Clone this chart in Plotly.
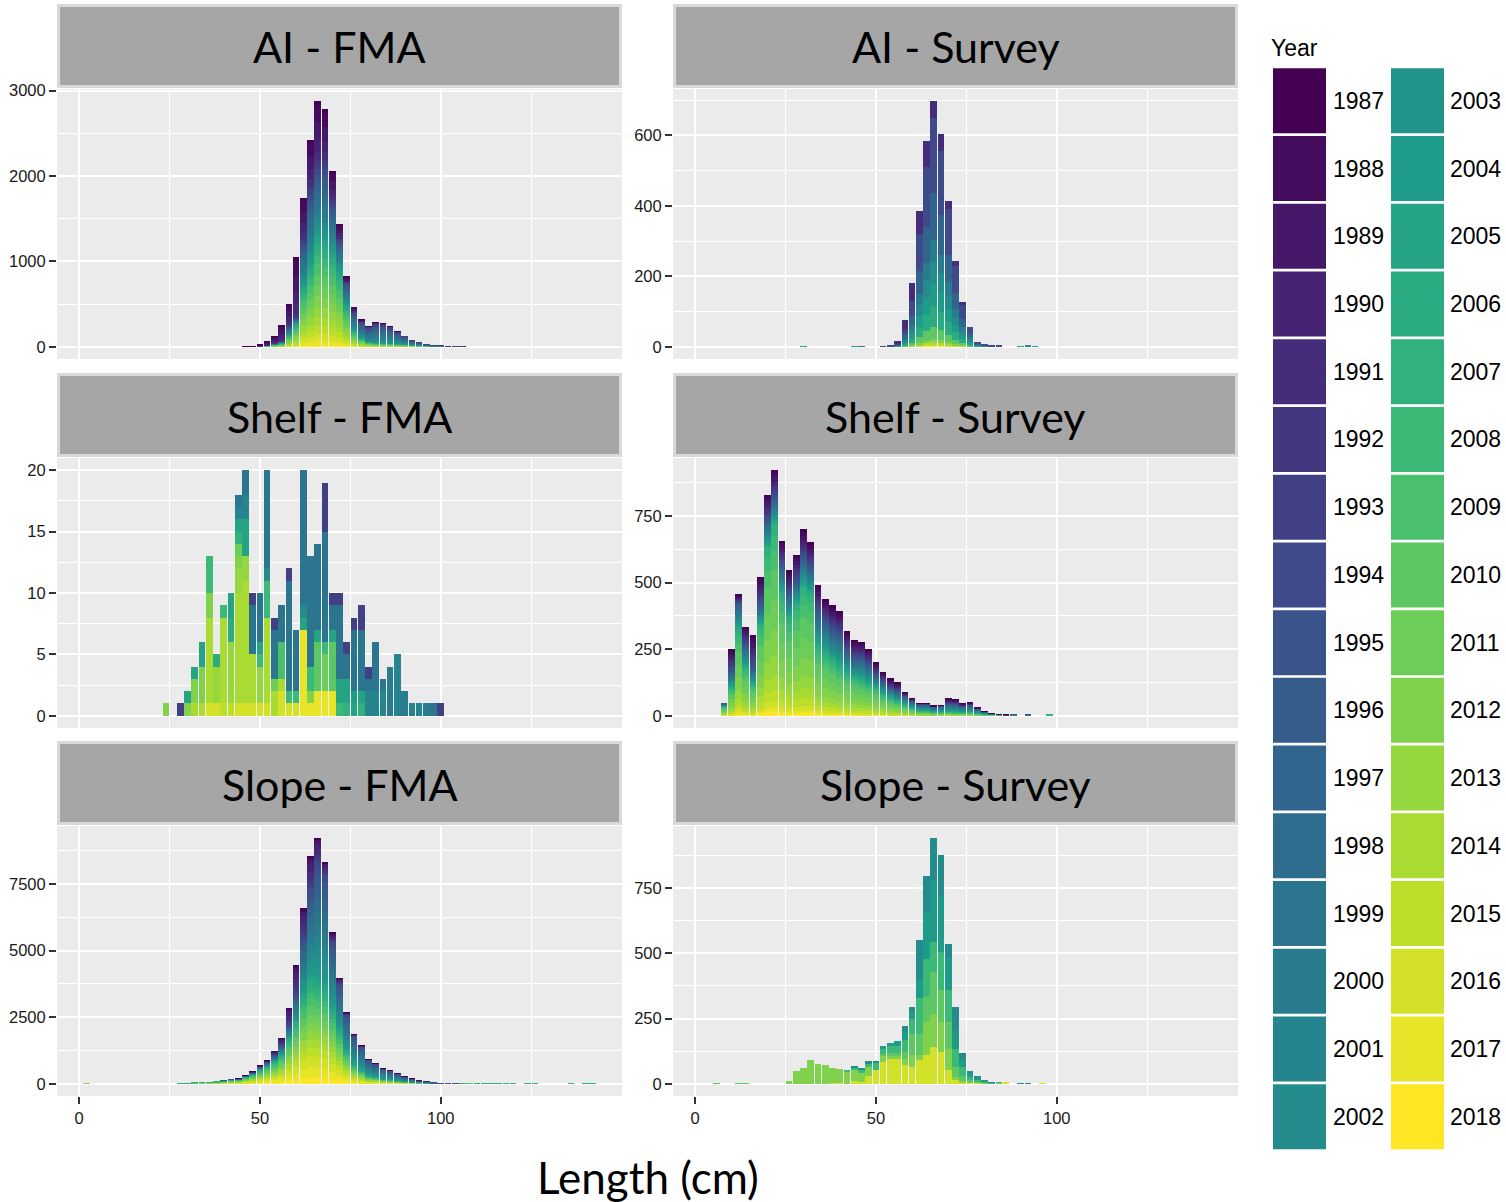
import plotly.graph_objects as go
from plotly.colors import sample_colorscale

W, H = 1506, 1202
YEARS = list(range(1987, 2019))
YEAR_COLORS = sample_colorscale("Viridis", [i / (len(YEARS) - 1) for i in range(len(YEARS))])

# ---------------------------------------------------------------- AI - FMA
ai_fma_bins = list(range(46, 108, 2))
ai_fma_early = [2, 4, 15, 45, 86, 190, 250, 711, 504, 578, 734, 645, 352, 164, 66, 43,
                20, 8, 10, 8, 5, 3, 0, 0, 0, 0, 0, 0, 0, 0, 0]
ai_fma_mid = [3, 4, 5, 5, 10, 20, 90, 60, 508, 840, 781, 820, 547, 332, 254, 207,
              187, 170, 225, 220, 190, 140, 95, 55, 35, 20, 12, 6, 4, 2, 1]
ai_fma_late = [0, 0, 3, 12, 29, 44, 156, 284, 734, 1008, 1359, 1320, 1164, 930, 500, 207,
               109, 62, 50, 45, 43, 37, 30, 23, 16, 11, 8, 6, 4, 2, 2]
ai_fma_early_w = {1987: 1, 1988: 4, 1989: 4, 1990: 3, 1991: 2, 1992: 1}
ai_fma_mid_w = {1993: 2, 1994: 2, 1995: 2, 1996: 2, 1997: 3, 1998: 3, 1999: 3, 2000: 3,
                2001: 2, 2002: 2, 2003: 2}
ai_fma_late_w = {2004: 3, 2005: 3, 2006: 3, 2007: 3, 2008: 4, 2009: 5, 2010: 5, 2011: 5,
                 2012: 5, 2013: 5, 2014: 4, 2015: 4, 2016: 3, 2017: 2, 2018: 1}

# ------------------------------------------------------------- AI - Survey
ai_survey_bins = list(range(52, 86, 2))
ai_survey_1991 = [0, 0, 5, 27, 51, 67, 76, 48, 48, 23, 14, 8, 0, 0, 0, 0, 0]
ai_survey_later = [2, 3, 10, 48, 129, 319, 509, 649, 556, 390, 229, 119, 57, 12, 6, 3, 3]
ai_survey_later_w = {1994: 228, 1997: 140, 2000: 67, 2002: 68, 2004: 65, 2006: 65,
                     2010: 35, 2012: 10, 2014: 6, 2016: 5, 2018: 3}
ai_survey_strays = [(30, 2006, 2), (44, 2006, 2), (46, 2000, 1), (90, 2006, 2),
                    (92, 2002, 3), (94, 2006, 2)]

# ------------------------------------------------------------ Shelf - FMA
shelf_fma = {
    24: {2012: 1},
    28: {1993: 1},
    30: {2005: 1, 2012: 1},
    32: {2005: 1, 2012: 2, 2014: 1},
    34: {2005: 2, 2012: 3, 2014: 1},
    36: {2008: 3, 2012: 2, 2014: 7, 2016: 1},
    38: {2006: 1, 2013: 3, 2016: 1},
    40: {2008: 1, 2014: 7, 2015: 1},
    42: {2005: 2, 2006: 2, 2013: 5, 2015: 1},
    44: {1999: 1, 2001: 1, 2005: 1, 2007: 1, 2011: 1, 2012: 1, 2013: 2, 2014: 9, 2016: 1},
    46: {1999: 2, 2001: 2, 2005: 3, 2013: 2, 2014: 10, 2016: 1},
    48: {1993: 1, 1999: 4, 2014: 4, 2016: 1},
    50: {1999: 4, 2005: 1, 2008: 1, 2013: 3, 2016: 1},
    52: {1999: 8, 2002: 1, 2008: 3, 2014: 7, 2016: 1},
    54: {1993: 1, 1999: 4, 2011: 1, 2014: 2},
    56: {1999: 3, 2009: 3, 2014: 1, 2016: 2},
    58: {1993: 1, 1999: 9, 2008: 1, 2016: 1},
    60: {1999: 5, 2008: 1, 2016: 1},
    62: {1999: 11, 2002: 1, 2005: 1, 2017: 7},
    64: {1999: 9, 2008: 2, 2012: 1, 2017: 1},
    66: {1999: 7, 2005: 1, 2010: 4, 2017: 2},
    68: {1993: 4, 1999: 9, 2008: 1, 2011: 3, 2017: 2},
    70: {1993: 1, 1999: 2, 2005: 1, 2010: 4, 2017: 2},
    72: {1993: 1, 1999: 6, 2005: 2, 2008: 1},
    74: {1993: 1, 1999: 2, 2005: 2, 2007: 1},
    76: {1993: 1, 1999: 5, 2004: 1, 2005: 1},
    78: {1993: 2, 1999: 5, 2005: 1, 2007: 1},
    80: {1993: 1, 1999: 1, 2001: 2},
    82: {1999: 4, 2001: 2},
    84: {1999: 1, 2001: 2},
    86: {2000: 4},
    88: {2001: 5},
    90: {2000: 2},
    92: {2001: 1},
    94: {2001: 1},
    96: {2000: 1},
    98: {1999: 1},
    100: {1993: 1},
}

# --------------------------------------------------------- Shelf - Survey
shelf_survey_bins = list(range(8, 100, 2))
shelf_survey_early = [0, 85, 30, 70, 126, 106, 102, 106, 91, 92, 101, 111, 97, 99, 84, 100,
                      90, 79, 67, 60, 60, 49, 35, 36, 32, 16, 12, 4, 4, 3, 3, 20, 18, 10, 10,
                      5, 2, 1, 1, 2, 0, 0, 0, 0, 0, 0]
shelf_survey_mid = [10, 62, 110, 86, 62, 75, 100, 100, 112, 88, 88, 112, 100, 137, 125, 112,
                    125, 87, 75, 87, 75, 50, 50, 38, 38, 31, 25, 25, 25, 22, 24, 30, 30, 25, 28,
                    18, 8, 4, 2, 1, 5, 0, 3, 0, 0, 0]
shelf_survey_late = [35, 104, 314, 179, 116, 341, 629, 716, 454, 366, 416, 479, 454, 254, 228,
                     204, 179, 154, 142, 129, 116, 103, 79, 66, 54, 42, 29, 18, 18, 12, 12, 15,
                     13, 11, 12, 8, 6, 4, 3, 1, 0, 0, 0, 0, 0, 3]
shelf_survey_early_w = {1987: 2, 1988: 3, 1989: 3, 1990: 2, 1991: 2, 1992: 2, 1993: 2,
                        1994: 2, 1995: 2}
shelf_survey_mid_w = {1996: 2, 1997: 2, 1998: 2, 1999: 2, 2000: 2, 2001: 2, 2002: 2,
                      2003: 2, 2004: 2, 2005: 2, 2006: 2}
shelf_survey_late_w = {2007: 3, 2008: 4, 2009: 5, 2010: 8, 2011: 8, 2012: 7, 2013: 5,
                       2014: 4, 2015: 3, 2016: 2, 2017: 1, 2018: 1}

# ------------------------------------------------------------ Slope - FMA
slope_fma_bins = list(range(28, 106, 2))
slope_fma_early = [0, 0, 0, 0, 0, 0, 0, 0, 5, 10, 25, 40, 50, 137, 250, 625, 1100, 1125,
                   1200, 875, 462, 325, 187, 87, 50, 25, 15, 12, 10, 8, 5, 3, 2, 1, 1, 0, 0,
                   0, 0]
slope_fma_mid = [0, 0, 0, 0, 0, 0, 5, 10, 20, 40, 75, 110, 150, 250, 375, 500, 1000, 2250,
                 3500, 4625, 4375, 2625, 1812, 1375, 1100, 900, 620, 500, 400, 330, 270, 180,
                 130, 75, 60, 25, 15, 12, 6]
slope_fma_late = [20, 25, 37, 50, 62, 75, 107, 140, 162, 262, 350, 525, 662, 838, 1087,
                  1712, 2337, 3212, 3837, 3712, 3462, 2712, 1962, 1212, 712, 500, 290, 250,
                  177, 149, 112, 79, 55, 36, 26, 12, 10, 8, 6]
slope_fma_early_w = {1987: 1, 1988: 2, 1989: 4, 1990: 6, 1991: 6, 1992: 4, 1993: 4}
slope_fma_mid_w = {1994: 2, 1995: 2, 1996: 3, 1997: 3, 1998: 3, 1999: 3, 2000: 3, 2001: 3,
                   2002: 3, 2003: 3, 2004: 2, 2005: 2}
slope_fma_late_w = {2006: 2, 2007: 2, 2008: 2, 2009: 3, 2010: 3, 2011: 3, 2012: 3, 2013: 3,
                    2014: 3, 2015: 3, 2016: 4, 2017: 4, 2018: 2}
# sparse catches at the extremes of the length range: (bin, year, count)
slope_fma_strays = [(2, 2013, 6), (106, 2007, 8), (108, 2010, 10), (110, 2007, 8),
                    (112, 2007, 10), (114, 2007, 8), (116, 2007, 10), (118, 2007, 8),
                    (120, 2007, 8), (124, 2007, 8), (126, 2007, 8), (136, 2007, 8),
                    (140, 2007, 8), (142, 2007, 8)]

# --------------------------------------------------------- Slope - Survey
slope_survey_bins = list(range(26, 88, 2))
slope_survey = {
    2002: [0, 0, 0, 0, 0, 0, 0, 0, 0, 6, 9, 9, 9, 0, 0, 0, 22, 20, 153, 138, 160, 158, 56,
           92, 22, 8, 3, 0, 2, 0, 0],
    2004: [0, 0, 0, 0, 0, 0, 0, 0, 0, 0, 0, 0, 0, 10, 15, 20, 32, 26, 70, 179, 237, 212, 122,
           70, 32, 15, 8, 5, 0, 0, 0],
    2008: [0, 0, 0, 0, 0, 0, 0, 0, 4, 8, 9, 13, 29, 20, 25, 25, 45, 58, 135, 147, 115, 147,
           122, 70, 35, 12, 8, 4, 2, 2, 0],
    2010: [0, 0, 0, 0, 0, 0, 0, 0, 0, 0, 0, 0, 0, 10, 10, 12, 26, 83, 83, 96, 160, 122, 103,
           38, 17, 8, 4, 0, 0, 0, 0],
    2012: [9, 47, 60, 90, 74, 72, 57, 55, 45, 44, 36, 35, 0, 20, 15, 12, 26, 45, 19, 128, 128,
           115, 83, 13, 6, 4, 0, 2, 0, 3, 0],
    2016: [0, 0, 0, 0, 0, 0, 2, 3, 0, 9, 6, 29, 51, 85, 93, 95, 70, 64, 90, 109, 141, 122, 51,
           13, 6, 3, 3, 2, 2, 0, 3],
}
slope_survey_strays = [(6, 2010, 2), (12, 2010, 2), (14, 2010, 2), (90, 2002, 2),
                       (92, 2002, 2), (96, 2016, 2)]

PANEL_TITLES = ["AI - FMA", "AI - Survey", "Shelf - FMA", "Shelf - Survey",
                "Slope - FMA", "Slope - Survey"]
Y_TICKS = [[0, 1000, 2000, 3000], [0, 200, 400, 600], [0, 5, 10, 15, 20],
           [0, 250, 500, 750], [0, 2500, 5000, 7500], [0, 250, 500, 750]]
X_TICKS = [0, 50, 100]
X_MINOR = [25, 75, 125]
X_RANGE = [-6.1, 150.1]


def empty_table():
    return {yr: {} for yr in YEARS}


def add_groups(table, bins, groups):
    """Split each length bin's count among the years of a group in fixed proportions."""
    for counts, weights in groups:
        wsum = float(sum(weights.values()))
        for b, n in zip(bins, counts):
            if not n:
                continue
            for yr, w in weights.items():
                table[yr][b] = table[yr].get(b, 0) + n * w / wsum
    return table


def add_strays(table, strays):
    for b, yr, n in strays:
        table[yr][b] = table[yr].get(b, 0) + n
    return table


def from_bin_dict(d):
    table = empty_table()
    for b, parts in d.items():
        for yr, n in parts.items():
            table[yr][b] = table[yr].get(b, 0) + n
    return table


def from_year_lists(bins, per_year):
    table = empty_table()
    for yr, counts in per_year.items():
        for b, n in zip(bins, counts):
            if n:
                table[yr][b] = table[yr].get(b, 0) + n
    return table


tables = [
    add_groups(empty_table(), ai_fma_bins,
               [(ai_fma_early, ai_fma_early_w), (ai_fma_mid, ai_fma_mid_w),
                (ai_fma_late, ai_fma_late_w)]),
    add_strays(add_groups(empty_table(), ai_survey_bins,
                          [(ai_survey_1991, {1991: 1}),
                           (ai_survey_later, ai_survey_later_w)]), ai_survey_strays),
    from_bin_dict(shelf_fma),
    add_groups(empty_table(), shelf_survey_bins,
               [(shelf_survey_early, shelf_survey_early_w),
                (shelf_survey_mid, shelf_survey_mid_w),
                (shelf_survey_late, shelf_survey_late_w)]),
    add_strays(add_groups(empty_table(), slope_fma_bins,
                          [(slope_fma_early, slope_fma_early_w),
                           (slope_fma_mid, slope_fma_mid_w),
                           (slope_fma_late, slope_fma_late_w)]), slope_fma_strays),
    add_strays(from_year_lists(slope_survey_bins, slope_survey), slope_survey_strays),
]


def px_x(x):
    return x / W


def px_y(y):
    return 1 - y / H


COLS_PX = [(57, 622), (673, 1238)]
ROWS_PX = [(89, 359), (458, 728), (826, 1096)]
STRIPS_PX = [(4, 88), (373, 457), (741, 825)]

TICK_FONT = dict(family="Liberation Sans, Arial, sans-serif", size=16.5, color="#1a1a1a")
TITLE_FONT = "Lato, 'Open Sans', sans-serif"

fig = go.Figure()
layout = dict(
    width=W, height=H, margin=dict(l=0, r=0, t=0, b=0, pad=0, autoexpand=False),
    paper_bgcolor="white", plot_bgcolor="#EBEBEB",
    barmode="stack", bargap=0.08, showlegend=False,
    shapes=[], annotations=[],
)

for i, table in enumerate(tables):
    row, col = divmod(i, 2)
    n = i + 1
    xname = "x" if n == 1 else f"x{n}"
    yname = "y" if n == 1 else f"y{n}"

    # stack with the latest year at the bottom, 1987 on top
    totals = {}
    for yr, color in reversed(list(zip(YEARS, YEAR_COLORS))):
        series = table[yr]
        if not series:
            continue
        xs = sorted(series)
        ys = [series[b] for b in xs]
        for b, v in zip(xs, ys):
            totals[b] = totals.get(b, 0) + v
        fig.add_trace(go.Bar(
            x=xs, y=ys, xaxis=xname, yaxis=yname, width=1.84,
            marker=dict(color=color, line=dict(width=0)),
            name=str(yr), hoverinfo="x+y+name",
        ))
    top = max(totals.values())
    ticks = Y_TICKS[i]
    step = ticks[1] - ticks[0]
    y_range = [-0.05 * top, 1.05 * top]
    minor = [ticks[0] + (k + 0.5) * step for k in range(-1, len(ticks) + 1)
             if y_range[0] < ticks[0] + (k + 0.5) * step < y_range[1]]

    x0, x1 = COLS_PX[col]
    yt, yb = ROWS_PX[row]
    bottom = row == 2
    layout["xaxis" if n == 1 else f"xaxis{n}"] = dict(
        domain=[px_x(x0), px_x(x1)], anchor=yname, range=X_RANGE, automargin=False,
        tickmode="array", tickvals=X_TICKS, ticktext=[str(v) for v in X_TICKS],
        showticklabels=bottom, ticks="outside" if bottom else "",
        ticklen=7, tickwidth=1.5, tickcolor="#333333", tickfont=TICK_FONT,
        showgrid=True, gridcolor="white", gridwidth=1.8,
        minor=dict(tickmode="array", tickvals=X_MINOR, showgrid=True,
                   gridcolor="white", gridwidth=0.9),
        zeroline=False, showline=False, fixedrange=True,
    )
    layout["yaxis" if n == 1 else f"yaxis{n}"] = dict(
        domain=[px_y(yb), px_y(yt)], anchor=xname, range=y_range, automargin=False,
        tickmode="array", tickvals=ticks, ticktext=[str(v) for v in ticks],
        ticks="outside", ticklen=7, tickwidth=1.5, tickcolor="#333333", tickfont=TICK_FONT,
        showgrid=True, gridcolor="white", gridwidth=1.8,
        minor=dict(tickmode="array", tickvals=minor, showgrid=True,
                   gridcolor="white", gridwidth=0.9),
        zeroline=False, showline=False, fixedrange=True,
    )

    # facet strip
    s0, s1 = STRIPS_PX[row]
    layout["shapes"].append(dict(
        type="rect", xref="paper", yref="paper", layer="below",
        x0=px_x(x0 + 1.5), x1=px_x(x1 - 1.5), y0=px_y(s1 - 1.5), y1=px_y(s0 + 1.5),
        fillcolor="#A6A6A6", line=dict(color="#D9D9D9", width=3),
    ))
    layout["annotations"].append(dict(
        text=PANEL_TITLES[i], xref="paper", yref="paper", showarrow=False,
        x=px_x((x0 + x1) / 2), y=px_y((s0 + s1) / 2 + 1), xanchor="center", yanchor="middle",
        font=dict(family=TITLE_FONT, size=43, color="black"),
    ))

# shared x-axis title
layout["annotations"].append(dict(
    text="Length (cm)", xref="paper", yref="paper", showarrow=False,
    x=px_x(647.5), y=px_y(1177), xanchor="center", yanchor="middle",
    font=dict(family=TITLE_FONT, size=44, color="black"),
))

# year key: two columns of 16 swatches
LEG_FONT = dict(family="Liberation Sans, Arial, sans-serif", size=23, color="black")
layout["annotations"].append(dict(
    text="Year", xref="paper", yref="paper", showarrow=False,
    x=px_x(1269), y=px_y(48), xanchor="left", yanchor="middle", font=LEG_FONT,
))
KEY_COLS = [(1273, 1326, 1331), (1391, 1444, 1448)]
KEY_TOP, KEY_PITCH, KEY_H = 68.3, 67.73, 65
for k, (yr, color) in enumerate(zip(YEARS, YEAR_COLORS)):
    c, r = divmod(k, 16)
    kx0, kx1, lx = KEY_COLS[c]
    ky0 = KEY_TOP + r * KEY_PITCH
    layout["shapes"].append(dict(
        type="rect", xref="paper", yref="paper",
        x0=px_x(kx0), x1=px_x(kx1), y0=px_y(ky0 + KEY_H), y1=px_y(ky0),
        fillcolor=color, line=dict(width=0),
    ))
    layout["annotations"].append(dict(
        text=str(yr), xref="paper", yref="paper", showarrow=False,
        x=px_x(lx), y=px_y(ky0 + KEY_H / 2), xanchor="left", yanchor="middle", font=LEG_FONT,
    ))

fig.update_layout(**layout)
fig.write_html("out.html")
